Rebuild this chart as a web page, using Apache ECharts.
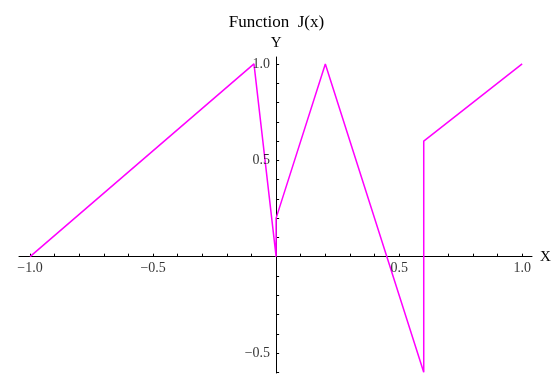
<!DOCTYPE html>
<html>
<head>
<meta charset="utf-8">
<script src="https://cdn.jsdelivr.net/npm/echarts@6/dist/echarts.min.js"></script>
<style>
  html, body { margin: 0; padding: 0; background: #fff; }
  #chart { width: 553px; height: 377px; }
</style>
</head>
<body>
<div id="chart"></div>
<script>
// Piecewise-linear J(x): vertices of the polyline (jumps drawn as vertical segments)
const xValues = [-1.0, -0.09, 0.0, 0.0, 0.2, 0.6, 0.6, 1.0];
const yValues = [0.0, 1.0, 0.0, 0.2, 1.0, -0.6, 0.6, 1.0];

// Labelled tick positions
const xLabelTicks = [-1.0, -0.5, 0.5, 1.0];
const yLabelTicks = [-0.5, 0.5, 1.0];

// Minor ticks every 0.1
const xTicks = [];
for (let i = -10; i <= 10; i++) xTicks.push(i / 10);
const yTicks = [];
for (let i = -6; i <= 10; i++) yTicks.push(i / 10);

const fmt = v => (v < 0 ? '\u2212' : '') + Math.abs(v).toFixed(1);
const serif = '"Liberation Serif", "DejaVu Serif", serif';
const labelFont = { fontFamily: serif, fontSize: 14, color: '#000' };

const chart = echarts.init(document.getElementById('chart'), null, { renderer: 'canvas' });
chart.setOption({
  animation: false,
  backgroundColor: '#ffffff',
  title: {
    text: 'Function  J(x)',
    left: 'center',
    top: 9,
    textStyle: { fontFamily: serif, fontSize: 17, fontWeight: 'normal', color: '#000' }
  },
  grid: { left: 19, right: 21, top: 57, bottom: 4, containLabel: false, outerBoundsMode: 'none' },
  xAxis: {
    type: 'value',
    min: -1.045,
    max: 1.04,
    name: 'X',
    nameLocation: 'end',
    nameGap: 8,
    nameTextStyle: { fontFamily: serif, fontSize: 15, color: '#000' },
    axisLine: { onZero: true, lineStyle: { color: '#000', width: 1 } },
    axisTick: { show: true, inside: true, length: 3, customValues: xTicks, lineStyle: { color: '#000' } },
    axisLabel: { show: false },
    splitLine: { show: false }
  },
  yAxis: {
    type: 'value',
    min: -0.6035,
    max: 1.036,
    name: 'Y',
    nameLocation: 'end',
    nameGap: 6,
    nameTextStyle: { fontFamily: serif, fontSize: 15, color: '#000', align: 'center' },
    axisLine: { onZero: true, lineStyle: { color: '#000', width: 1 } },
    axisTick: { show: true, inside: true, length: 3, customValues: yTicks, lineStyle: { color: '#000' } },
    axisLabel: { show: false },
    splitLine: { show: false }
  },
  series: [
    {
      type: 'line',
      data: xValues.map((x, i) => [x, yValues[i]]),
      showSymbol: false,
      symbol: 'none',
      lineStyle: { color: '#ff00ff', width: 1.5 },
      clip: false,
      z: 3
    },
    {
      // tick labels along the x axis (placed at y = 0)
      type: 'scatter',
      silent: true,
      symbolSize: 0,
      data: xLabelTicks.map(v => [v, 0]),
      label: {
        show: true, position: 'bottom', distance: 5,
        formatter: p => fmt(p.value[0]), ...labelFont
      },
      z: 4
    },
    {
      // tick labels along the y axis (placed at x = 0)
      type: 'scatter',
      silent: true,
      symbolSize: 0,
      data: yLabelTicks.map(v => [0, v]),
      label: {
        show: true, position: 'left', distance: 6,
        formatter: p => fmt(p.value[1]), ...labelFont
      },
      z: 4
    }
  ]
});
</script>
</body>
</html>
